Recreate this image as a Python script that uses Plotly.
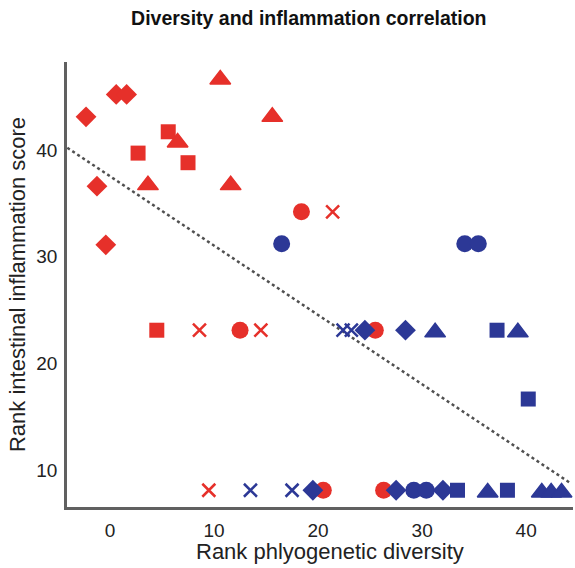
import plotly.graph_objects as go

# ---- data ----
red_diamond_x = [-2.3, 0.6, 1.6, -1.25, -0.4]
red_diamond_y = [43.1, 45.2, 45.2, 36.6, 31.1]
red_square_x = [5.6, 2.7, 7.5, 4.5]
red_square_y = [41.7, 39.7, 38.8, 23.1]
red_triangle_x = [10.6, 15.6, 6.5, 3.65, 11.6]
red_triangle_y = [46.6, 43.1, 40.7, 36.7, 36.7]
red_circle_x = [18.4, 12.5, 25.5, 20.5, 26.3]
red_circle_y = [34.2, 23.1, 23.1, 8.1, 8.1]
red_x_x = [21.4, 8.6, 14.5, 9.5]
red_x_y = [34.2, 23.1, 23.1, 8.1]

blue_circle_x = [16.5, 34.1, 35.4, 29.2, 30.4]
blue_circle_y = [31.2, 31.2, 31.2, 8.1, 8.1]
blue_diamond_x = [24.5, 28.4, 19.5, 27.5, 32.0]
blue_diamond_y = [23.1, 23.1, 8.1, 8.1, 8.1]
blue_square_x = [37.2, 40.2, 33.4, 38.2]
blue_square_y = [23.1, 16.65, 8.1, 8.1]
blue_triangle_x = [31.25, 39.2, 36.3, 41.5, 42.4, 43.4]
blue_triangle_y = [22.9, 22.9, 7.9, 7.9, 7.9, 7.9]
blue_x_x = [22.4, 23.2, 13.5, 17.5]
blue_x_y = [23.1, 23.1, 8.1, 8.1]

trend_x = [-4.1, 44.2]
trend_y = [40.2, 8.8]

x_ticks = [0, 10, 20, 30, 40]
y_ticks = [10, 20, 30, 40]

RED = "#e6302a"
BLUE = "#2c3896"

fig = go.Figure()

fig.add_trace(go.Scatter(x=trend_x, y=trend_y, mode="lines",
                         line=dict(color="#505050", width=2.5, dash="dot"),
                         hoverinfo="skip"))

def add(xs, ys, color, symbol, size, lw=0):
    fig.add_trace(go.Scatter(
        x=xs, y=ys, mode="markers", cliponaxis=False,
        marker=dict(color=color, symbol=symbol, size=size,
                    line=dict(color=color, width=lw))))

add(red_diamond_x, red_diamond_y, RED, "diamond", 16)
add(red_square_x, red_square_y, RED, "square", 15)
add(red_triangle_x, red_triangle_y, RED, "triangle-up", 18, 1.5)
add(red_circle_x, red_circle_y, RED, "circle", 17)
add(red_x_x, red_x_y, RED, "x-thin-open", 13, 2.5)

add(blue_circle_x, blue_circle_y, BLUE, "circle", 17)
add(blue_x_x, blue_x_y, BLUE, "x-thin-open", 13, 2.5)
add(blue_diamond_x, blue_diamond_y, BLUE, "diamond", 16)
add(blue_square_x, blue_square_y, BLUE, "square", 15)
add(blue_triangle_x, blue_triangle_y, BLUE, "triangle-up", 18, 1.5)

fig.update_layout(
    width=575, height=568,
    margin=dict(l=67, r=2, t=62, b=61),
    paper_bgcolor="white", plot_bgcolor="white",
    showlegend=False,
    font=dict(family="Liberation Sans, Arial, sans-serif", color="#222222", size=19),
    title=dict(text="<b>Diversity and inflammation correlation</b>",
               x=0.537, xanchor="center", y=1 - 18 / 568, yanchor="middle",
               yref="container", font=dict(size=19.5, color="#111111")),
    xaxis=dict(range=[-4.13, 44.5], tickvals=x_ticks, showgrid=False, zeroline=False,
               showline=True, linecolor="#606060", linewidth=2.5, ticks="",
               ticklabelstandoff=4, tickfont=dict(size=19)),
    yaxis=dict(range=[6.53, 48.24], tickvals=y_ticks, showgrid=False, zeroline=False,
               showline=True, linecolor="#606060", linewidth=2.5, ticks="",
               ticklabelstandoff=3, tickfont=dict(size=19),
               title=dict(text="Rank intestinal inflammation score", standoff=5,
                          font=dict(size=22))),
    annotations=[dict(text="Rank phlyogenetic diversity", xref="paper", yref="paper",
                      x=0.52, y=-0.101, xanchor="center", yanchor="middle",
                      showarrow=False, font=dict(size=22, color="#222222"))],
)

fig.write_html("out.html")
